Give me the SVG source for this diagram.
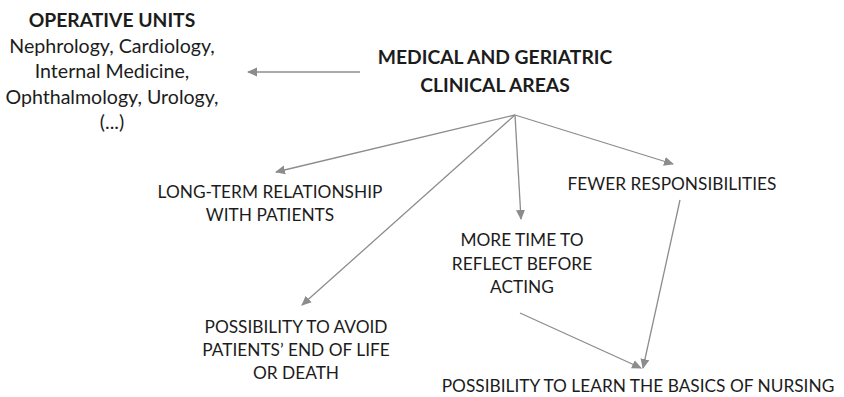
<svg xmlns="http://www.w3.org/2000/svg" width="844" height="397" viewBox="0 0 844 397">
<style>
text{font-family:Lato,"Open Sans","Liberation Sans",sans-serif;fill:#1c1c1c;text-anchor:middle}
.b{font-weight:bold;font-size:19.3px}
.t{font-size:19.6px}
.n{font-size:17.3px}
.c line{stroke:#8c8c8c;stroke-width:1.3;marker-end:url(#ah)}
</style>
<defs>
<marker id="ah" viewBox="0 0 10 10" refX="9" refY="5" markerWidth="10" markerHeight="10" markerUnits="userSpaceOnUse" orient="auto">
<path d="M0,0.5 L10,5 L0,9.5 Z" fill="#8c8c8c"/>
</marker>
</defs>
<rect width="844" height="397" fill="#ffffff"/>
<g id="operative-units">
<text class="b" x="112" y="27">OPERATIVE UNITS</text>
<text class="t" x="112" y="53">Nephrology, Cardiology,</text>
<text class="t" x="112" y="78">Internal Medicine,</text>
<text class="t" x="112" y="104">Ophthalmology, Urology,</text>
<text class="t" x="112" y="129">(...)</text>
</g>
<g id="medical-geriatric">
<text class="b" x="495" y="64">MEDICAL AND GERIATRIC</text>
<text class="b" x="495" y="92">CLINICAL AREAS</text>
</g>
<g id="long-term">
<text class="n" x="270" y="198">LONG-TERM RELATIONSHIP</text>
<text class="n" x="270" y="221">WITH PATIENTS</text>
</g>
<g id="fewer">
<text class="n" x="672" y="190">FEWER RESPONSIBILITIES</text>
</g>
<g id="more-time">
<text class="n" x="522" y="246">MORE TIME TO</text>
<text class="n" x="522" y="270">REFLECT BEFORE</text>
<text class="n" x="522" y="293">ACTING</text>
</g>
<g id="avoid">
<text class="n" x="296" y="333">POSSIBILITY TO AVOID</text>
<text class="n" x="296" y="356">PATIENTS’ END OF LIFE</text>
<text class="n" x="296" y="379">OR DEATH</text>
</g>
<g id="learn">
<text class="n" x="638" y="392">POSSIBILITY TO LEARN THE BASICS OF NURSING</text>
</g>
<g id="connectors" class="c">
<line x1="360" y1="72" x2="248" y2="72"/>
<line x1="515" y1="115" x2="276" y2="172"/>
<line x1="515" y1="115" x2="302" y2="305"/>
<line x1="515" y1="115" x2="521" y2="219"/>
<line x1="515" y1="115" x2="673" y2="164"/>
<line x1="680" y1="200" x2="643" y2="368"/>
<line x1="520" y1="313" x2="641" y2="368"/>
</g>
</svg>
